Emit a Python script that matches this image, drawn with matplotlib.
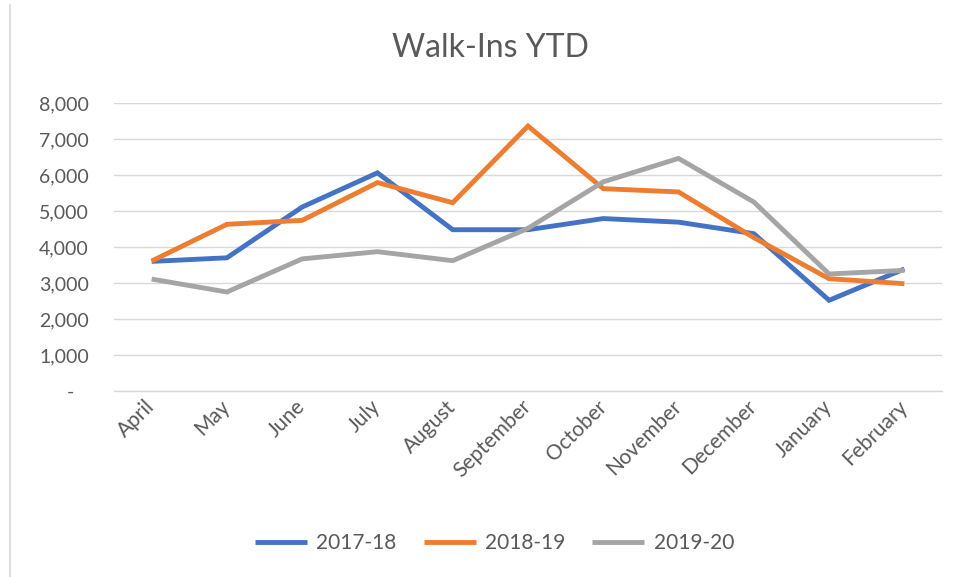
import matplotlib
matplotlib.use("Agg")
import matplotlib.pyplot as plt
from matplotlib.ticker import FuncFormatter, MultipleLocator
from matplotlib.lines import Line2D

plt.rcParams["font.family"] = ["Lato", "DejaVu Sans"]

# --- Data ---
months = ["April", "May", "June", "July", "August", "September",
          "October", "November", "December", "January", "February"]
walkins_1718 = [3600, 3700, 5110, 6060, 4480, 4480, 4790, 4690, 4370, 2520, 3390]
walkins_1819 = [3610, 4630, 4740, 5790, 5230, 7360, 5620, 5530, 4260, 3120, 2980]
walkins_1920 = [3110, 2750, 3670, 3870, 3620, 4520, 5810, 6460, 5250, 3250, 3350]

series = [
    ("2017-18", walkins_1718, "#4472C4"),
    ("2018-19", walkins_1819, "#ED7D31"),
    ("2019-20", walkins_1920, "#A5A5A5"),
]

W, H = 959, 577
fig = plt.figure(figsize=(W / 100, H / 100), dpi=100)
ax = fig.add_axes([114 / W, 1 - 391 / H, (942 - 114) / W, (391 - 103) / H])

x = list(range(len(months)))
for name, vals, col in series:
    ax.plot(x, vals, color=col, linewidth=3.5, label=name, solid_capstyle="butt",
            solid_joinstyle="miter", zorder=3)

ax.set_xlim(-0.5, len(months) - 0.5)
ax.set_ylim(0, 8000)
ax.yaxis.set_major_locator(MultipleLocator(1000))
ax.yaxis.set_major_formatter(FuncFormatter(lambda v, p: "-   " if v == 0 else f"{v:,.0f}"))
ax.grid(axis="y", color="#D9D9D9", linewidth=1.0, zorder=0)
for s in ["top", "right", "left"]:
    ax.spines[s].set_visible(False)
ax.spines["bottom"].set_color("#D9D9D9")
ax.spines["bottom"].set_linewidth(1.0)
ax.tick_params(axis="both", length=0, colors="#595959", labelsize=14)
ax.tick_params(axis="y", pad=18)
ax.set_xticks(x)
ax.set_xticklabels(months, rotation=45, ha="right", va="center", rotation_mode="anchor",
                   fontsize=15)
ax.tick_params(axis="x", pad=9)

fig.text(490 / W, 1 - 48 / H, "Walk-Ins YTD", ha="center", va="center",
         fontsize=23, color="#595959")

handles = [Line2D([], [], color=c, linewidth=3.5, solid_capstyle="butt") for _, _, c in series]
fig.legend(handles, [n for n, _, _ in series], loc="center",
           bbox_to_anchor=(494.5 / W, 1 - 543 / H), ncol=3, frameon=False,
           fontsize=15, labelcolor="#595959", handlelength=2.5, handletextpad=0.45,
           columnspacing=1.3)

# chart border on the left edge
fig.add_artist(Line2D([10 / W, 10 / W], [0, 1 - 5 / H], color="#D9D9D9", linewidth=1.2,
                      transform=fig.transFigure))

fig.savefig("out.png", dpi=100, facecolor="white")
